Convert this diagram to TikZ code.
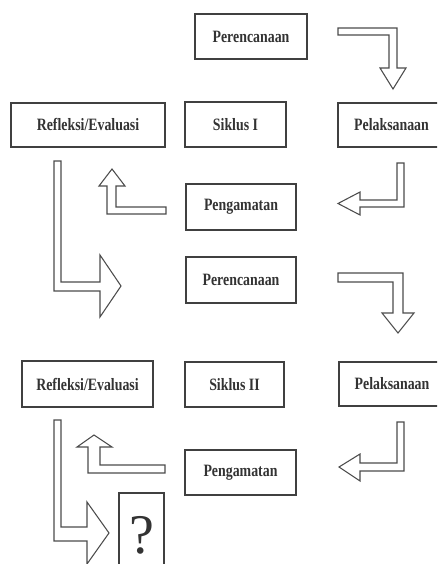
\documentclass[tikz,border=0pt]{standalone}
\usepackage{fontspec}
\setmainfont{Liberation Serif}
\newfontfamily\boxfont[FakeStretch=0.8]{Liberation Serif}

\newcommand{\px}{0.75pt}

\tikzset{
  stage/.style={draw=black!75, line width=0.8pt, rectangle, inner sep=0pt,
    font=\boxfont\bfseries\fontsize{13}{15}\selectfont, text=black!80},
  blockarrow/.style={draw=black!70, line width=0.8pt, line join=miter, fill=white}
}

\begin{document}
\begin{tikzpicture}[x=0.75pt,y=-0.75pt]

\useasboundingbox (0,0) rectangle (437,564);
\clip (0,0) rectangle (437,564);

% siklus I
\node[stage, minimum width=112*\px, minimum height=45*\px] (per1) at (251,36.5) {Perencanaan};
\node[stage, minimum width=101*\px, minimum height=45*\px] (sik1) at (235.5,124.5) {Siklus I};
\node[stage, minimum width=107*\px, minimum height=44*\px] (pel1) at (391.5,125) {Pelaksanaan};
\node[stage, minimum width=154*\px, minimum height=44*\px] (ref1) at (88,125) {Refleksi/Evaluasi};
\node[stage, minimum width=110*\px, minimum height=46*\px] (pen1) at (241,207) {Pengamatan};

% siklus II
\node[stage, minimum width=110*\px, minimum height=46*\px] (per2) at (241,280) {Perencanaan};
\node[stage, minimum width=99*\px, minimum height=45*\px] (sik2) at (234.5,384.5) {Siklus II};
\node[stage, minimum width=106*\px, minimum height=44*\px] (pel2) at (392,384) {Pelaksanaan};
\node[stage, minimum width=131*\px, minimum height=46*\px] (ref2) at (87.5,384) {Refleksi/Evaluasi};
\node[stage, minimum width=111*\px, minimum height=45*\px] (pen2) at (240.5,472.5) {Pengamatan};

\node[stage, minimum width=45*\px, minimum height=84*\px, font=\fontsize{42}{44}\selectfont] (next) at (141.5,535) {?};

% hollow arrows, siklus I
\draw[blockarrow] (338,28) -- (397,28) -- (397,68) -- (406,68) -- (393,89) -- (380,68) -- (389,68) -- (389,35) -- (338,35) -- cycle;
\draw[blockarrow] (397,163) -- (404,163) -- (404,207) -- (360,207) -- (360,215) -- (338,203.5) -- (360,192) -- (360,200) -- (397,200) -- cycle;
\draw[blockarrow] (166,207) -- (166,214) -- (107,214) -- (107,186) -- (99,186) -- (112,169) -- (125,186) -- (116,186) -- (116,207) -- cycle;
\draw[blockarrow] (54,161) -- (61,161) -- (61,282) -- (100,282) -- (100,255) -- (121,286) -- (100,317) -- (100,291) -- (54,291) -- cycle;

% hollow arrows, siklus II
\draw[blockarrow] (338,273) -- (403,273) -- (403,313) -- (414,313) -- (398,333) -- (382,313) -- (393,313) -- (393,282) -- (338,282) -- cycle;
\draw[blockarrow] (397,422) -- (404,422) -- (404,471) -- (360,471) -- (360,481) -- (339,467) -- (360,454) -- (360,463) -- (397,463) -- cycle;
\draw[blockarrow] (165,465) -- (165,473) -- (88,473) -- (88,447) -- (77,447) -- (94,435) -- (112,447) -- (100,447) -- (100,465) -- cycle;
\draw[blockarrow] (54,420) -- (61,420) -- (61,527) -- (87,527) -- (87,502) -- (109,533) -- (87,564) -- (87,541) -- (54,541) -- cycle;

\end{tikzpicture}
\end{document}
